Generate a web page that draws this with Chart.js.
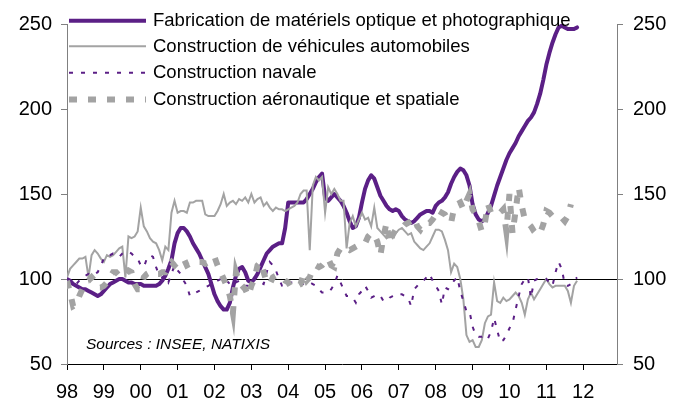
<!DOCTYPE html>
<html><head><meta charset="utf-8">
<script src="https://cdn.jsdelivr.net/npm/chart.js@4.4.1/dist/chart.umd.min.js"></script>
<style>html,body{margin:0;padding:0;background:#fff;} #wrap{width:687px;height:405px;}</style>
</head><body><div id="wrap"><canvas id="c" width="687" height="405"></canvas></div>
<script>
// Monthly indices, January 1998 = 0
const yearLabels = ['98','99','00','01','02','03','04','05','06','07','08','09','10','11','12'];
const yTicks = [50,100,150,200,250];
const seriesNames = [
  'Fabrication de matériels optique et photographique',
  'Construction de véhicules automobiles',
  'Construction navale',
  'Construction aéronautique et spatiale'
];
const sourceText = 'Sources : INSEE, NATIXIS';

const optique = [
100,99,97,96,95,94,94,93,92,91,
90,91,93,95,97,98,99,100,100,99,
98,98,97,97,97,96,96,96,96,96,
97,99,102,106,111,121,127,130,130,128,
125,121,118,115,111,107,103,97,91,87,
84,82,82,86,95,102,106,107,104,99,
98,100,103,107,111,115,117,119,120,121,
121,130,145,145,145,145,145,145,147,150,
153,157,160,162,148,146,148,150,148,146,
143,139,134,130,131,136,145,153,158,161,
159,154,149,146,143,141,140,141,140,137,
135,134,133,134,136,138,139,140,140,139,
143,145,146,148,151,156,160,163,165,164,
161,155,144,138,135,134,135,139,143,149,
155,160,165,170,174,177,180,184,187,190,
193,195,198,203,209,217,226,233,239,244,
248,249,248,247,247,247,248];

const automobiles = [
101,106,108,110,112,112,113,101,114,117,
115,112,110,114,113,114,116,118,119,101,
125,124,125,128,142,131,128,124,122,121,
117,111,119,117,139,146,139,140,140,139,
145,145,146,146,146,138,137,137,137,140,
144,150,143,145,146,144,147,146,148,145,
150,145,147,148,143,145,142,140,142,141,
141,140,141,142,143,145,150,152,152,117,
155,160,158,160,139,154,150,153,150,146,
146,118,133,137,131,135,139,135,136,131,
142,130,128,126,124,126,124,127,129,130,
128,126,127,122,120,118,117,119,121,125,
129,129,128,123,117,104,109,107,100,88,
67,63,64,60,60,64,74,78,79,98,
87,86,89,87,88,90,92,90,86,79,
88,92,88,91,94,97,100,97,95,96,
96,96,96,93,86,96,99];

const navale = [
100,98,97,97,99,101,102,103,102,103,
104,108,112,114,114,115,114,113,115,116,
116,115,113,112,108,107,112,114,113,107,
102,101,102,98,103,108,105,103,99,96,
90,91,92,93,94,95,96,97,98,99,
100,101,99,97,96,98,99,98,96,96,
99,101,99,98,97,104,110,108,105,100,
96,95,97,98,98,98,97,97,98,98,
97,96,94,92,92,92,94,97,102,98,
94,90,90,89,86,91,93,96,93,89,
90,91,90,87,87,89,90,91,91,91,
90,89,84,94,96,98,99,101,103,99,
96,93,85,95,94,97,99,101,93,87,
81,81,72,67,66,66,67,65,69,77,
70,63,64,67,71,74,82,90,97,100,
101,89,99,100,100,100,100,98,96,104,
110,106,97,96,97,99,101];

const aeronautique = [
99,92,84,85,90,94,98,99,101,99,
95,95,96,98,101,104,104,102,101,103,
105,104,97,94,94,101,103,104,104,103,
103,104,104,108,110,108,110,111,112,108,
109,109,110,110,110,109,110,112,113,108,
104,100,96,90,80,104,98,96,94,90,
96,100,108,110,104,98,97,101,102,101,
101,99,98,95,95,96,97,103,99,101,
106,108,107,108,110,112,108,107,115,118,
119,118,117,118,119,120,120,121,125,127,
126,122,114,125,133,121,126,129,129,130,
132,133,134,136,131,129,132,133,133,135,
138,136,139,138,135,133,142,144,145,141,
146,150,141,138,134,128,133,144,139,138,
138,139,141,128,150,127,140,154,143,135,
133,131,128,126,127,132,140,139,137,136,
136,136,134,137,144];

const PURPLE = '#5b1f86';
const GRAY = '#a3a3a3';
const FONT = '"Liberation Sans", Arial, sans-serif';
const pts = arr => arr.map((v, i) => ({x: i, y: v}));

const overlayPlugin = {
  id: 'overlay',
  afterDraw(chart) {
    const ctx = chart.ctx;
    ctx.save();
    const rows = [20.7, 46.3, 72.8, 99.5];
    chart.data.datasets.forEach((ds, i) => {
      const y = rows[i];
      ctx.beginPath();
      ctx.strokeStyle = ds.borderColor;
      ctx.lineWidth = ds.borderWidth;
      ctx.setLineDash(ds.borderDash || []);
      ctx.lineCap = 'butt';
      ctx.moveTo(69, y);
      ctx.lineTo(146, y);
      ctx.stroke();
      ctx.setLineDash([]);
      ctx.fillStyle = '#000';
      ctx.font = '18.5px ' + FONT;
      ctx.textBaseline = 'middle';
      ctx.textAlign = 'left';
      ctx.fillText(ds.label, 153, y + 0.5);
    });
    ctx.font = 'italic 15.5px ' + FONT;
    ctx.fillStyle = '#000';
    ctx.textBaseline = 'middle';
    ctx.fillText(sourceText, 86, 345);
    ctx.restore();
  }
};

const datasets = [
  {label: seriesNames[0], data: pts(optique), borderColor: PURPLE, borderWidth: 4, order: 4, borderJoinStyle: 'round', borderCapStyle: 'round'},
  {label: seriesNames[1], data: pts(automobiles), borderColor: GRAY, borderWidth: 2, order: 3},
  {label: seriesNames[2], data: pts(navale), borderColor: PURPLE, borderWidth: 2, borderDash: [4, 8], order: 2},
  {label: seriesNames[3], data: pts(aeronautique), borderColor: GRAY, borderWidth: 6, borderDash: [8, 11], order: 1}
].map(d => Object.assign({pointRadius: 0, tension: 0, fill: false, yAxisID: 'y'}, d));

new Chart(document.getElementById('c'), {
  type: 'line',
  data: {datasets},
  options: {
    responsive: false,
    animation: false,
    devicePixelRatio: 1,
    layout: {padding: {top: 24, left: 0, right: 0, bottom: 0}},
    plugins: {legend: {display: false}, tooltip: {enabled: false}},
    scales: {
      x: {
        type: 'linear', min: 0, max: 179,
        afterBuildTicks: s => { s.ticks = yearLabels.map((_, i) => ({value: i * 12})); },
        ticks: {callback: (v, i) => yearLabels[i], font: {family: FONT, size: 20}, color: '#000', padding: 10, maxRotation: 0, autoSkip: false},
        grid: {drawOnChartArea: false, tickLength: 6, tickColor: '#000'},
        border: {color: '#000', width: 1},
        afterFit: s => { s.height = 41; }
      },
      y: {
        type: 'linear', position: 'left', min: 50, max: 250,
        afterBuildTicks: s => { s.ticks = yTicks.map(v => ({value: v})); },
        ticks: {font: {family: FONT, size: 20}, color: '#000', padding: 9},
        grid: {color: c => (c.tick && c.tick.value === 100) ? '#000' : 'rgba(0,0,0,0)', tickColor: '#808080', tickLength: 6, lineWidth: 1},
        border: {color: '#808080', width: 1},
        afterFit: s => { s.width = 67; }
      },
      y2: {
        type: 'linear', position: 'right', min: 50, max: 250,
        afterBuildTicks: s => { s.ticks = yTicks.map(v => ({value: v})); },
        ticks: {font: {family: FONT, size: 20}, color: '#000', padding: 10},
        grid: {drawOnChartArea: false, tickColor: '#808080', tickLength: 6},
        border: {color: '#808080', width: 1},
        afterFit: s => { s.width = 70; }
      }
    }
  },
  plugins: [overlayPlugin]
});
</script>
</body></html>
